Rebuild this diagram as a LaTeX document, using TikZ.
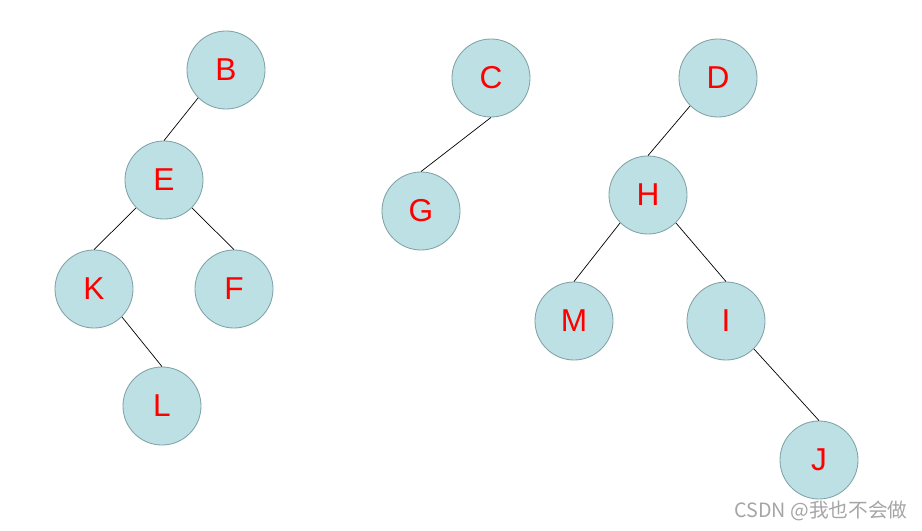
\documentclass[tikz,border=0pt]{standalone}
\usepackage{fontspec}
\setmainfont{Liberation Sans}
\newfontfamily\cjk{Noto Sans CJK SC}
\usetikzlibrary{positioning}
\definecolor{nodefill}{RGB}{188,224,228}
\definecolor{nodeline}{RGB}{128,162,166}
\definecolor{marktext}{RGB}{165,165,165}

\begin{document}
\begin{tikzpicture}[
    x=0.025cm, y=-0.025cm,
    vert/.style={circle, draw=nodeline, fill=nodefill, line width=0.6pt,
                 minimum size=1.95cm, inner sep=0pt,
                 text=red, font=\fontsize{22.5}{24}\selectfont},
    link/.style={black, line width=0.5pt},
  ]
  \useasboundingbox (0,0) rectangle (922,531);
  % first tree
  \node[vert] (B) at (226,70) {B};
  \node[vert] (E) at (164,180) {E};
  \node[vert] (K) at (94,289) {K};
  \node[vert] (F) at (234,289) {F};
  \node[vert] (L) at (162,406) {L};
  % second tree
  \node[vert] (C) at (491,78) {C};
  \node[vert] (G) at (421,211) {G};
  % third tree
  \node[vert] (D) at (718,78) {D};
  \node[vert] (H) at (648,195) {H};
  \node[vert] (M) at (574,321) {M};
  \node[vert] (I) at (726,321) {I};
  \node[vert] (J) at (819,460) {J};
  \draw[link] (B.south west) -- (E.north);
  \draw[link] (E.south west) -- (K.north);
  \draw[link] (E.south east) -- (F.north);
  \draw[link] (K.south east) -- (L.north);
  \draw[link] (C.south) -- (G.north);
  \draw[link] (D.south west) -- (H.north);
  \draw[link] (H.south west) -- (M.north);
  \draw[link] (H.south east) -- (I.north);
  \draw[link] (I.south east) -- (J.north);
  \node[text=marktext, font=\cjk\fontsize{14}{16}\selectfont] (mark) at (821,511) {CSDN @我也不会做};
\end{tikzpicture}
\end{document}
